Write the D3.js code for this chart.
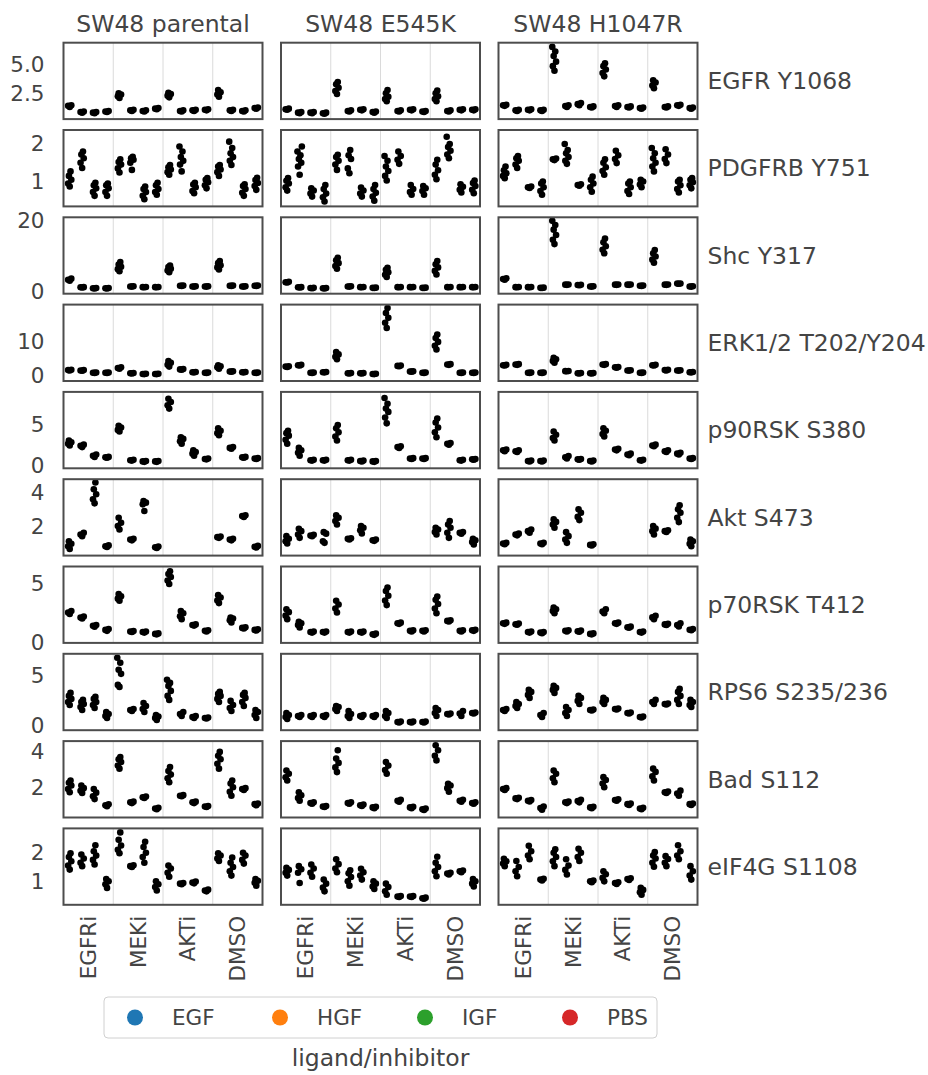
<!DOCTYPE html>
<html>
<head>
<meta charset="utf-8">
<script src="https://cdn.jsdelivr.net/npm/d3@7"></script>
<style>
  body { margin: 0; background: #fff; }
  text { font-family: "DejaVu Sans", sans-serif; fill: #444; }
</style>
</head>
<body>
<svg id="chart"></svg>
<script>
// ---- data ----------------------------------------------------------------
const cellLines = ["SW48 parental", "SW48 E545K", "SW48 H1047R"];
const inhibitors = ["EGFRi", "MEKi", "AKTi", "DMSO"];
const ligands = ["EGF", "HGF", "IGF", "PBS"];
const proteins = ["EGFR Y1068", "PDGFRB Y751", "Shc Y317", "ERK1/2 T202/Y204", "p90RSK S380",
                  "Akt S473", "p70RSK T412", "RPS6 S235/236", "Bad S112", "eIF4G S1108"];

// each cell line: 16 cells, inhibitor-major (EGFRi: EGF,HGF,IGF,PBS, MEKi: ..., AKTi: ..., DMSO: ...)
const egfrY1068 = [
  [[1.3,1.4,1.45],[0.8,0.85,0.9],[0.75,0.8,0.85],[0.85,0.9,0.95],
   [2.1,2.25,2.4,2.5],[0.95,1.0,1.05],[0.9,0.95,1.0],[1.1,1.15,1.2],
   [2.15,2.3,2.45,2.55],[0.9,0.95,1.0],[0.95,1.0,1.05],[1.0,1.05,1.1],
   [2.2,2.4,2.6,2.8],[0.95,1.0,1.05],[0.9,0.95,1.0],[1.15,1.2,1.25]],
  [[1.05,1.1,1.15],[0.75,0.8,0.85],[0.75,0.8,0.85],[0.7,0.75,0.8],
   [2.45,2.7,3.0,3.3,3.5],[0.9,0.95,1.0],[1.0,1.05,1.1],[0.8,0.85,0.9],
   [1.8,2.0,2.2,2.5,2.8],[0.9,0.95,1.0],[1.0,1.05,1.1],[0.85,0.9,0.95],
   [1.8,2.0,2.25,2.5,2.75],[0.9,0.95,1.0],[1.0,1.05,1.1],[1.0,1.05,1.1]],
  [[1.4,1.45,1.5],[0.95,1.0,1.05],[1.0,1.05,1.1],[0.95,1.0,1.05],
   [4.5,4.9,5.3,5.8,6.2,6.6],[1.3,1.38,1.45],[1.45,1.55,1.65],[1.25,1.3,1.35],
   [4.0,4.3,4.6,4.9,5.15],[1.3,1.38,1.45],[1.25,1.3,1.35],[1.15,1.2,1.25],
   [2.95,3.2,3.45,3.65],[1.25,1.3,1.35],[1.4,1.45,1.5],[1.15,1.2,1.25]]
];
const pdgfrbY751 = [
  [[0.87,0.95,1.05,1.15,1.27],[1.36,1.5,1.62,1.72,1.8],[0.62,0.72,0.82,0.9,0.97],[0.62,0.72,0.82,0.9,0.95],
   [1.24,1.35,1.45,1.52,1.59],[1.31,1.5,1.58,1.62,1.66],[0.53,0.62,0.72,0.8,0.87],[0.65,0.72,0.8,0.9,0.97],
   [1.18,1.25,1.32,1.38,1.44],[1.27,1.45,1.55,1.65,1.8,1.93],[0.69,0.75,0.85,0.92,0.97],[0.82,0.9,0.98,1.05,1.09],
   [1.15,1.25,1.32,1.4,1.44],[1.44,1.55,1.65,1.75,1.89,2.06],[0.62,0.7,0.8,0.88,0.93],[0.78,0.88,0.96,1.04,1.1]],
  [[0.76,0.85,0.95,1.02,1.09],[1.18,1.4,1.5,1.6,1.7,1.8,1.93],[0.6,0.68,0.76,0.82],[0.47,0.58,0.68,0.8,0.91],
   [1.31,1.45,1.55,1.65,1.71],[1.22,1.35,1.6,1.7,1.84],[0.6,0.68,0.76,0.84],[0.49,0.6,0.7,0.8,0.91],
   [1.03,1.15,1.28,1.4,1.55,1.68],[1.47,1.58,1.68,1.8],[0.65,0.72,0.8,0.91],[0.65,0.75,0.82,0.88],
   [1.06,1.18,1.3,1.45,1.58],[1.62,1.72,1.82,1.92,2.0,2.19],[0.71,0.78,0.86,0.93],[0.69,0.78,0.88,0.96,1.03]],
  [[1.09,1.15,1.22,1.3,1.4],[1.36,1.45,1.55,1.62,1.68],[0.83,0.85,0.87],[0.65,0.75,0.85,0.95,1.0],
   [1.57,1.59,1.61],[1.47,1.55,1.65,1.75,1.84,2.0],[0.89,0.91,0.93],[0.73,0.85,0.95,1.05,1.13],
   [1.18,1.28,1.38,1.5,1.59],[1.49,1.6,1.7,1.82],[0.67,0.75,0.85,0.95,1.0],[0.85,0.92,1.0,1.05],
   [1.27,1.4,1.5,1.62,1.75,1.89],[1.49,1.6,1.72,1.86],[0.71,0.8,0.9,1.0,1.05],[0.82,0.9,0.98,1.05,1.09]]
];
const shcY317 = [
  [[3.0,3.3,3.6],[1.1,1.15,1.2],[0.8,0.87,0.95],[0.8,0.87,0.95],
   [5.7,6.3,7.0,7.6,8.3],[1.35,1.4,1.45],[1.15,1.2,1.25],[1.15,1.2,1.25],
   [5.4,5.9,6.4,6.9,7.3],[1.55,1.6,1.65],[1.35,1.4,1.45],[1.35,1.4,1.45],
   [6.2,6.8,7.4,8.0,8.6],[1.55,1.6,1.65],[1.35,1.4,1.45],[1.55,1.6,1.65]],
  [[2.5,2.6,2.7],[1.1,1.15,1.2],[0.9,0.95,1.0],[0.8,0.87,0.95],
   [6.4,7.2,8.0,8.8,9.5],[1.35,1.4,1.45],[1.15,1.2,1.25],[0.95,1.0,1.05],
   [4.1,4.7,5.4,6.1,6.7],[1.15,1.2,1.25],[1.15,1.2,1.25],[0.95,1.0,1.05],
   [4.8,5.8,6.8,7.7,8.6],[1.15,1.2,1.25],[1.15,1.2,1.25],[1.15,1.2,1.25]],
  [[3.3,3.5,3.7],[1.15,1.2,1.25],[1.15,1.2,1.25],[0.95,1.0,1.05],
   [13.4,14.6,16.0,17.5,18.8,20.0],[1.85,1.9,1.95],[1.75,1.8,1.85],[1.35,1.4,1.45],
   [10.8,11.8,12.8,13.9,15.0],[1.85,1.9,1.95],[1.85,1.9,1.95],[1.55,1.6,1.65],
   [8.1,9.0,9.9,10.8,11.7],[1.85,1.9,1.95],[2.15,2.2,2.25],[1.35,1.4,1.45]]
];
const erkT202 = [
  [[1.6,1.7,1.8],[1.5,1.6,1.7],[0.9,0.95,1.0],[0.9,0.95,1.0],
   [2.1,2.3,2.5],[0.75,0.8,0.85],[0.55,0.6,0.65],[0.55,0.6,0.65],
   [2.7,3.2,3.8,4.3],[1.8,1.9,2.0],[1.05,1.1,1.15],[0.9,0.95,1.0],
   [2.1,2.5,2.8,3.1],[1.25,1.3,1.35],[1.05,1.1,1.15],[0.9,0.95,1.0]],
  [[2.6,2.7,2.8],[3.0,3.1,3.2],[0.9,0.95,1.0],[1.05,1.1,1.15],
   [4.8,5.5,6.2,6.9],[0.75,0.8,0.85],[0.75,0.8,0.85],[0.55,0.6,0.65],
   [13.8,15.3,16.7,18.1,19.5],[2.8,2.9,3.0],[1.25,1.3,1.35],[0.9,0.95,1.0],
   [7.6,8.7,9.8,10.9,11.9],[3.2,3.3,3.4],[0.9,0.95,1.0],[0.9,0.95,1.0]],
  [[3.0,3.1,3.2],[3.2,3.3,3.4],[0.9,0.95,1.0],[0.9,0.95,1.0],
   [3.8,4.3,4.8,5.2],[1.35,1.4,1.45],[0.75,0.8,0.85],[0.75,0.8,0.85],
   [3.2,3.3,3.4],[2.4,2.5,2.6],[1.55,1.6,1.65],[0.9,0.95,1.0],
   [3.0,3.1,3.2],[1.6,1.7,1.8],[1.55,1.6,1.65],[1.05,1.1,1.15]]
];
const p90rskS380 = [
  [[2.5,2.7,2.9,3.1],[2.3,2.45,2.6],[1.1,1.25,1.4],[1.0,1.05,1.1],
   [4.2,4.4,4.7,4.9],[0.65,0.7,0.75],[0.5,0.55,0.6],[0.5,0.55,0.6],
   [7.0,7.4,7.8,8.2],[2.7,3.0,3.3,3.5],[1.25,1.5,1.7,1.9],[0.8,0.85,0.9],
   [3.75,4.0,4.3,4.6],[2.1,2.2,2.3],[1.0,1.05,1.1],[0.85,0.9,0.95]],
  [[2.7,3.2,3.7,4.0,4.3],[1.25,1.6,1.9,2.2],[0.65,0.7,0.75],[0.65,0.7,0.75],
   [3.1,3.6,4.1,4.6,5.0],[0.65,0.7,0.75],[0.55,0.6,0.65],[0.5,0.55,0.6],
   [5.2,5.9,6.6,7.0,7.6,8.3],[2.2,2.3,2.4],[0.85,0.9,0.95],[0.85,0.9,0.95],
   [3.5,4.1,4.7,5.3,5.8],[2.6,2.7,2.8],[0.65,0.7,0.75],[0.75,0.8,0.85]],
  [[1.8,1.9,2.0],[1.7,1.8,1.9],[0.55,0.6,0.65],[0.55,0.6,0.65],
   [3.1,3.4,3.8,4.2],[0.9,1.05,1.2],[0.75,0.8,0.85],[0.55,0.6,0.65],
   [3.6,3.9,4.3,4.6],[1.9,2.0,2.1],[1.3,1.4,1.5],[0.65,0.7,0.75],
   [2.4,2.5,2.6],[1.7,1.8,1.9],[1.4,1.5,1.6],[0.85,0.9,0.95]]
];
const aktS473 = [
  [[0.64,0.8,0.95,1.1],[1.4,1.5,1.6],[3.36,3.6,3.9,4.2,4.6],[0.75,0.8,0.85],
   [1.8,2.0,2.2,2.5],[1.15,1.2,1.25],[2.9,3.3,3.4,3.5],[0.7,0.74,0.78],
   [],[],[],[],
   [1.3,1.34,1.38],[1.15,1.2,1.25],[2.55,2.6,2.65],[0.72,0.77,0.82]],
  [[0.96,1.1,1.25,1.4],[1.3,1.5,1.7,1.84],[1.4,1.44,1.48],[1.0,1.1,1.55,1.64],
   [2.1,2.3,2.5,2.64],[1.2,1.24,1.28],[1.56,1.75,1.9,2.0],[1.12,1.16,1.2],
   [],[],[],[],
   [1.5,1.65,1.8,1.9],[1.3,1.6,1.9,2.1,2.3],[1.55,1.6,1.65],[0.9,1.05,1.15,1.24]],
  [[0.92,0.96,1.0],[1.45,1.5,1.55],[1.6,1.7,1.8],[0.92,0.96,1.0],
   [1.9,2.1,2.25,2.4],[1.0,1.2,1.4,1.64],[2.36,2.55,2.8,3.0],[0.84,0.88,0.92],
   [],[],[],[],
   [1.5,1.7,1.85,2.0],[1.65,1.7,1.75],[2.24,2.5,2.8,3.0,3.24],[0.8,0.95,1.1,1.2]]
];
const p70rskT412 = [
  [[2.45,2.57,2.7],[2.05,2.14,2.22],[1.35,1.43,1.5],[1.0,1.08,1.15],
   [3.57,3.75,3.95,4.14],[0.9,0.94,0.98],[0.85,0.9,0.95],[0.7,0.74,0.78],
   [5.0,5.3,5.6,5.85,6.1],[2.0,2.25,2.5,2.7],[1.45,1.5,1.55],[0.95,1.0,1.05],
   [3.37,3.6,3.85,4.05],[1.71,1.9,2.05,2.14],[1.2,1.25,1.3],[1.03,1.08,1.13]],
  [[2.0,2.3,2.6,2.85],[1.29,1.5,1.65,1.77],[0.85,0.9,0.95],[0.85,0.9,0.95],
   [2.57,2.9,3.25,3.57],[0.85,0.9,0.95],[0.85,0.9,0.95],[0.66,0.71,0.76],
   [3.2,3.6,4.0,4.4,4.7],[1.6,1.65,1.7],[0.95,1.0,1.05],[0.95,1.0,1.05],
   [2.51,2.9,3.3,3.65,3.94],[1.8,1.85,1.9],[0.95,1.0,1.05],[1.0,1.05,1.1]],
  [[1.6,1.65,1.7],[1.52,1.57,1.62],[0.85,0.9,0.95],[0.8,0.85,0.9],
   [2.5,2.7,2.85,3.0],[0.95,1.0,1.05],[0.92,0.97,1.02],[0.7,0.74,0.78],
   [2.5,2.65,2.85],[1.6,1.65,1.7],[1.26,1.31,1.36],[0.85,0.9,0.95],
   [2.0,2.15,2.28],[1.5,1.55,1.6],[1.37,1.5,1.65],[1.05,1.1,1.15]]
];
const rps6S235 = [
  [[2.1,2.4,2.7,3.0,3.3],[1.6,1.9,2.2,2.4,2.6],[1.8,2.1,2.4,2.7,2.9],[0.8,1.0,1.2,1.4],
   [3.9,4.1,5.2,5.6,6.3,6.8],[1.5,1.6,1.7],[1.4,1.7,2.0,2.3],[0.6,0.8,0.95,1.1],
   [2.6,3.0,3.5,4.0,4.3,4.6],[1.0,1.2,1.4],[0.8,0.9,1.0],[0.75,0.8,0.85],
   [2.4,2.7,3.0,3.2,3.4],[1.5,1.8,2.1,2.5],[2.0,2.4,2.8,3.1,3.3],[0.8,1.1,1.4,1.6]],
  [[0.7,0.9,1.1,1.3],[0.9,1.0,1.1],[0.9,1.0,1.1],[0.9,1.0,1.1],
   [1.5,1.7,1.9,2.0],[0.8,1.0,1.2,1.5],[0.9,1.0,1.1],[0.9,1.0,1.1],
   [0.8,1.0,1.3,1.5],[0.35,0.4,0.45],[0.35,0.4,0.45],[0.35,0.4,0.45],
   [1.0,1.3,1.6,1.8],[1.15,1.2,1.25],[1.0,1.25,1.5],[1.25,1.3,1.35]],
  [[1.5,1.6,1.7],[1.8,2.0,2.2,2.4],[2.8,3.1,3.4,3.6],[0.9,1.1,1.3],
   [3.3,3.6,3.8,4.0],[1.0,1.3,1.6,1.9],[2.2,2.5,2.8,3.0],[1.55,1.6,1.65],
   [2.2,2.4,2.6,2.8],[1.65,1.7,1.75],[1.25,1.3,1.35],[0.85,0.9,0.95],
   [2.2,2.4,2.6],[2.15,2.2,2.25],[2.2,2.6,3.0,3.4,3.7],[1.9,2.1,2.4,2.6]]
];
const badS112 = [
  [[1.72,1.9,2.1,2.25,2.37],[1.68,1.8,1.95,2.1],[1.34,1.5,1.7,1.9],[0.95,1.0,1.05],
   [3.03,3.2,3.4,3.55,3.68],[1.12,1.16,1.2],[1.4,1.44,1.48],[0.78,0.82,0.86],
   [2.28,2.5,2.7,2.9,3.12],[1.5,1.53,1.56],[1.12,1.16,1.2],[0.9,0.93,0.96],
   [3.03,3.3,3.55,3.75,3.96],[1.53,1.75,2.0,2.2,2.37],[1.85,1.9,1.95],[1.0,1.06,1.1]],
  [[2.37,2.55,2.75,2.93],[1.25,1.4,1.55,1.72],[1.08,1.12,1.16],[0.9,0.93,0.96],
   [2.84,3.1,3.35,3.59,4.05],[1.08,1.12,1.16],[0.96,1.0,1.04],[0.84,0.88,0.92],
   [2.75,2.95,3.2,3.4],[1.2,1.25,1.3],[0.84,0.88,0.92],[0.74,0.78,0.82],
   [3.49,3.75,4.05,4.33],[1.75,1.95,2.1,2.19],[1.2,1.25,1.3],[1.08,1.12,1.16]],
  [[1.85,1.9,1.95],[1.34,1.38,1.42],[1.21,1.25,1.29],[0.75,0.85,0.93],
   [2.28,2.5,2.75,2.93],[1.12,1.16,1.2],[1.16,1.23,1.3],[0.84,0.88,0.92],
   [2.0,2.2,2.4,2.56],[1.25,1.29,1.33],[1.02,1.06,1.1],[0.78,0.82,0.86],
   [2.37,2.6,2.85,3.03],[1.68,1.72,1.76],[1.53,1.65,1.81],[1.02,1.06,1.1]]
];
const eif4gS1108 = [
  [[1.41,1.55,1.7,1.85,1.98],[1.53,1.65,1.8,1.94],[1.59,1.75,1.9,2.05,2.26],[0.77,0.9,1.0,1.08],
   [1.98,2.1,2.25,2.45,2.71],[1.5,1.53,1.56],[1.65,1.85,2.0,2.2,2.38],[0.68,0.8,0.9,1.0],
   [1.16,1.3,1.45,1.55],[0.9,0.92,0.94],[0.93,0.96,0.99],[0.65,0.68,0.71],
   [1.71,1.8,1.9,1.98],[1.2,1.35,1.5,1.65,1.83],[1.62,1.75,1.9,2.0],[0.85,0.95,1.02,1.08]],
  [[1.2,1.3,1.4,1.47],[0.94,1.3,1.42,1.53],[1.16,1.3,1.45,1.59],[0.65,0.78,0.92,1.06],
   [1.32,1.45,1.6,1.77],[0.85,1.0,1.15,1.28,1.39],[1.06,1.2,1.32,1.44],[0.73,0.82,0.92,1.0],
   [0.53,0.65,0.8,0.92],[0.45,0.47,0.49],[0.45,0.47,0.49],[0.39,0.41,0.43],
   [1.18,1.35,1.5,1.65,1.86],[1.24,1.27,1.3],[1.32,1.35,1.38],[0.82,0.92,1.0,1.08]],
  [[1.53,1.62,1.7,1.79],[1.18,1.35,1.5,1.71],[1.77,1.9,2.05,2.24],[1.03,1.06,1.09],
   [1.53,1.7,1.85,2.0,2.12],[1.24,1.4,1.55,1.77],[1.71,1.85,2.0,2.14],[0.97,1.0,1.03],
   [1.0,1.12,1.25,1.35],[0.91,0.94,0.97],[1.05,1.08,1.11],[0.53,0.62,0.7,0.77],
   [1.51,1.65,1.8,1.9,2.02],[1.53,1.65,1.78,1.88],[1.77,1.9,2.05,2.26],[1.06,1.2,1.35,1.53]]
];

// y axis per protein row (shared across the row)
const yDomains = [[0.23,6.97],[0.34,2.37],[-0.66,21.0],[-1.43,20.5],[-0.29,9.04],
                  [0.24,4.8],[-0.03,6.5],[-0.42,7.2],[0.32,4.56],[0.18,2.85]];
const yTicks = [[2.5,5.0],[1,2],[0,20],[0,10],[0,5],[2,4],[0,5],[0,5],[2,4],[1,2]];
const yTickFormats = [".1f","d","d","d","d","d","d","d","d","d"];
const ligandColors = ["#1f77b4","#ff7f0e","#2ca02c","#d62728"];

const rows = [egfrY1068, pdgfrbY751, shcY317, erkT202, p90rskS380,
              aktS473, p70rskT412, rps6S235, badS112, eif4gS1108];

// ---- layout ----------------------------------------------------------------
const width = 928, height = 1075;
const left0 = 63.5, top0 = 42.7;
const panelW = 199, panelH = 76.4;
const colStep = 217.5, rowStep = 87.3;
const jitter = [0, -1.6, 1.6, -0.8, 0.8, -2.2, 2.2];

const svg = d3.select("#chart").attr("width", width).attr("height", height);

const x = d3.scaleBand().domain(inhibitors).range([0, panelW]);
const xh = d3.scaleBand().domain(ligands).range([0, x.bandwidth()]);

// column titles
cellLines.forEach((name, c) => {
    svg.append("text")
        .attr("x", left0 + c * colStep + panelW / 2)
        .attr("y", 31.5)
        .attr("text-anchor", "middle")
        .style("font-size", "23.5px")
        .text(name);
});

rows.forEach((rowData, r) => {
    const y = d3.scaleLinear().domain(yDomains[r]).range([panelH, 0]);

    rowData.forEach((cells, c) => {
        const g = svg.append("g")
            .attr("transform", `translate(${left0 + c * colStep}, ${top0 + r * rowStep})`);

        // light separators between inhibitor groups
        g.selectAll(".sep")
            .data(inhibitors.slice(1))
            .join("line")
            .attr("x1", d => x(d)).attr("x2", d => x(d))
            .attr("y1", 0).attr("y2", panelH)
            .attr("stroke", "#dadada").attr("stroke-width", 1);

        // points
        const pts = [];
        cells.forEach((vals, k) => {
            const inh = inhibitors[Math.floor(k / 4)];
            const lig = ligands[k % 4];
            vals.forEach((v, i) => pts.push({ inh, lig, v, i }));
        });
        g.selectAll("circle")
            .data(pts)
            .join("circle")
            .attr("cx", d => x(d.inh) + xh(d.lig) + xh.bandwidth() / 2 + jitter[d.i % jitter.length])
            .attr("cy", d => y(d.v))
            .attr("r", 3.3)
            .attr("fill", "#000");

        // frame
        g.append("rect")
            .attr("width", panelW).attr("height", panelH)
            .attr("fill", "none").attr("stroke", "#4d4d4d").attr("stroke-width", 2);

        if (c === 0) {
            const yaxis = d3.axisLeft(y)
                .tickValues(yTicks[r])
                .tickFormat(d3.format(yTickFormats[r]))
                .tickSize(0)
                .tickPadding(19);
            const ag = g.append("g").call(yaxis);
            ag.select(".domain").remove();
            ag.selectAll("text").style("font-size", "21.5px").attr("fill", null);
        }

        if (r === rows.length - 1) {
            const xaxis = d3.axisBottom(x).tickSize(0);
            const xg = g.append("g").attr("transform", `translate(0, ${panelH})`).call(xaxis);
            xg.select(".domain").remove();
            xg.selectAll("text")
                .attr("fill", null)
                .style("font-size", "21.5px")
                .attr("text-anchor", "end")
                .attr("transform", "translate(0, 11) rotate(-90)")
                .attr("x", 0).attr("y", 0).attr("dy", "0.35em");
        }
    });

    // row label on the right
    svg.append("text")
        .attr("x", left0 + 2 * colStep + panelW + 10)
        .attr("y", top0 + r * rowStep + panelH / 2)
        .attr("dy", "0.35em")
        .style("font-size", "23.5px")
        .text(proteins[r]);
});

// legend
const legend = svg.append("g").attr("transform", "translate(104, 997)");
legend.append("rect")
    .attr("width", 553).attr("height", 41).attr("rx", 4)
    .attr("fill", "#fff").attr("stroke", "#d0d0d0");
ligands.forEach((lig, i) => {
    const lx = 31 + i * 145;
    legend.append("circle").attr("cx", lx).attr("cy", 20.5).attr("r", 8).attr("fill", ligandColors[i]);
    legend.append("text").attr("x", lx + 37).attr("y", 20.5).attr("dy", "0.35em")
        .style("font-size", "21.5px").text(lig);
});

svg.append("text")
    .attr("x", left0 + (2 * colStep + panelW) / 2)
    .attr("y", 1066)
    .attr("text-anchor", "middle")
    .style("font-size", "23.5px")
    .text("ligand/inhibitor");
</script>
</body>
</html>
